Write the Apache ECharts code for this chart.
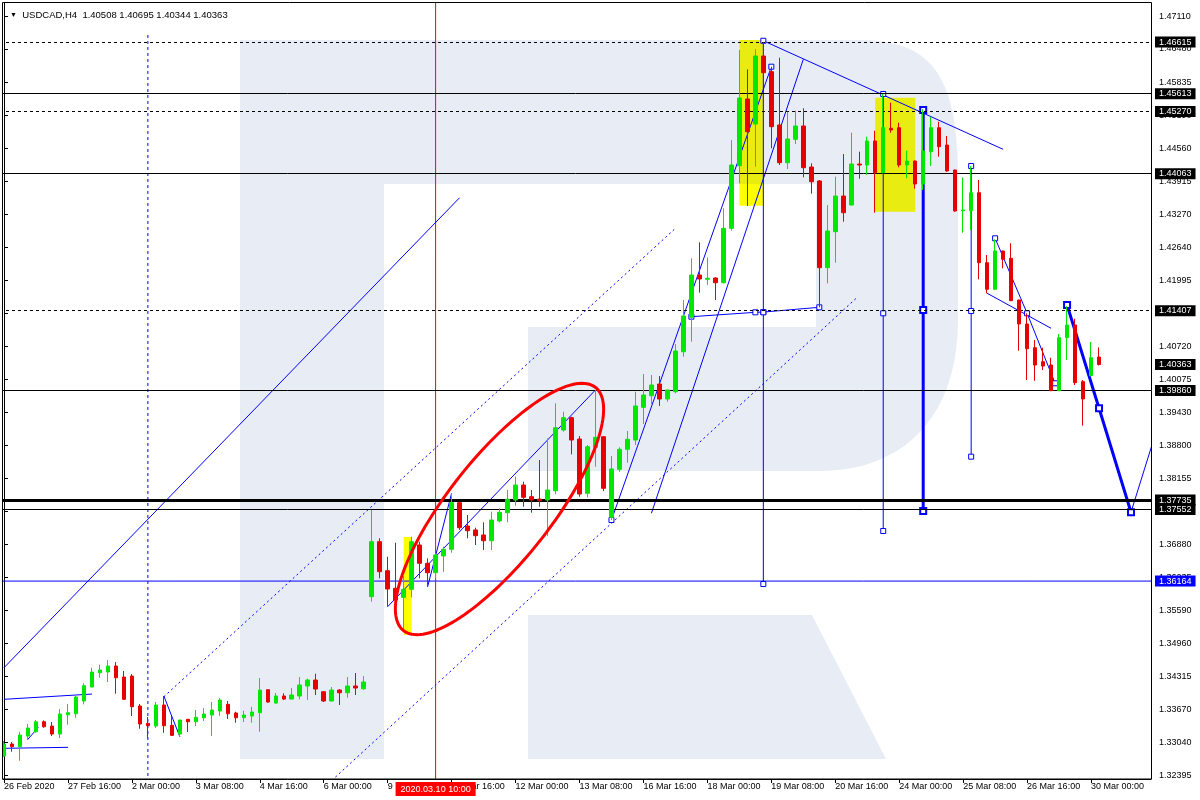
<!DOCTYPE html>
<html><head><meta charset="utf-8">
<script src="https://cdn.jsdelivr.net/npm/echarts@6/dist/echarts.min.js"></script>
<style>html,body{margin:0;padding:0;background:#fff}#c{width:1200px;height:800px}</style>
</head><body><div id="c"></div><script>
// ---------- data ----------
const X_TICK_LABELS = ['26 Feb 2020','27 Feb 16:00','2 Mar 00:00','3 Mar 08:00','4 Mar 16:00','6 Mar 00:00','9 Mar 08:00','10 Mar 16:00','12 Mar 00:00','13 Mar 08:00','16 Mar 16:00','18 Mar 00:00','19 Mar 08:00','20 Mar 16:00','24 Mar 00:00','25 Mar 08:00','26 Mar 16:00','30 Mar 00:00'];
const Y_TICKS = [1.47110,1.46480,1.45835,1.45190,1.44560,1.43915,1.43270,1.42640,1.41995,1.41350,1.40720,1.40075,1.39430,1.38800,1.38155,1.37510,1.36880,1.36235,1.35590,1.34960,1.34315,1.33670,1.33040,1.32395];
const OPEN = [1.32772,1.33005,1.32953,1.33160,1.33243,1.33437,1.33354,1.33199,1.33573,1.33592,1.33839,1.34110,1.34387,1.34401,1.34517,1.34304,1.34323,1.33742,1.33406,1.33354,1.33761,1.33367,1.33199,1.33484,1.33437,1.33515,1.33567,1.33645,1.33775,1.33606,1.33515,1.33548,1.33612,1.34058,1.33800,1.33936,1.33877,1.33936,1.34130,1.34246,1.34019,1.33839,1.34052,1.33999,1.34130,1.34077,
1.35862,1.36928,1.36366,1.36024,1.35850,1.36005,1.36864,1.36509,1.36327,1.36651,1.36781,1.37684,1.37232,1.37155,1.37058,1.36947,1.37329,1.37490,1.37736,1.38027,1.37800,1.37755,1.37736,1.37916,1.39093,1.39332,1.38918,1.37866,1.38757,1.38963,
1.37401,1.38331,1.38719,1.38899,1.39533,1.39758,1.39985,1.39694,1.39836,1.40611,1.41279,1.42098,1.42015,1.42040,1.41949,1.43003,1.44218,1.45511,1.45026,1.46344,1.46040,1.45007,1.44276,1.44729,1.44987,1.44192,1.43921,1.42240,1.42938,1.43630,
1.43455,1.44250,1.44231,1.44697,1.44082,1.44943,1.44954,1.44231,1.44309,1.43863,1.44489,1.44954,1.44619,1.44134,1.43345,1.43345,1.43694,1.42337,1.41821,1.42564,1.42422,1.41614,1.41149,1.40689,1.40417,1.40353,1.39855,1.40883,1.41129,1.40031,1.40146,1.40508];
const CLOSE = [1.33005,1.32953,1.33179,1.33315,1.33437,1.33340,1.33199,1.33587,1.33612,1.33916,1.34135,1.34401,1.34440,1.34517,1.34290,1.33872,1.33728,1.33393,1.33359,1.33761,1.33359,1.33173,1.33470,1.33437,1.33523,1.33587,1.33664,1.33858,1.33592,1.33515,1.33567,1.33625,1.34052,1.33819,1.33936,1.33877,1.33955,1.34149,1.34246,1.34071,1.33839,1.34052,1.33999,1.34130,1.34091,1.34207,
1.36928,1.36346,1.36011,1.35798,1.36005,1.36928,1.36509,1.36327,1.36670,1.36781,1.37684,1.37199,1.37141,1.37044,1.36947,1.37349,1.37498,1.37750,1.38027,1.37788,1.37736,1.37722,1.37930,1.39137,1.39332,1.38899,1.37852,1.38769,1.38951,1.37963,
1.38337,1.38719,1.38913,1.39559,1.39772,1.39966,1.39694,1.39869,1.40625,1.41304,1.42098,1.42021,1.42034,1.41949,1.43003,1.44231,1.45530,1.44877,1.46344,1.46020,1.44974,1.44276,1.44735,1.44987,1.44179,1.43907,1.42240,1.42951,1.43630,1.43306,
1.44250,1.44231,1.44697,1.44082,1.44954,1.44910,1.44231,1.44309,1.43863,1.44503,1.44954,1.44586,1.44115,1.43339,1.43359,1.43694,1.42337,1.41821,1.42564,1.42403,1.41600,1.41149,1.40669,1.40353,1.40334,1.39855,1.40883,1.41129,1.40011,1.39694,1.40495,1.40363];
const LOW = [1.32753,1.32856,1.32681,1.33082,1.33224,1.33321,1.33160,1.33121,1.33379,1.33515,1.33775,1.34105,1.34290,1.34207,1.33980,1.33858,1.33548,1.33302,1.33108,1.33315,1.33224,1.33160,1.33146,1.33238,1.33354,1.33451,1.33160,1.33554,1.33490,1.33418,1.33431,1.33418,1.33243,1.33806,1.33786,1.33858,1.33872,1.33872,1.33858,1.33955,1.33819,1.33835,1.33761,1.33903,1.33955,1.34058,
1.35765,1.36218,1.35668,1.35765,1.35183,1.35850,1.36218,1.36055,1.36218,1.36346,1.36715,1.37155,1.36994,1.36864,1.36767,1.36767,1.37304,1.37304,1.37625,1.37606,1.37490,1.37606,1.37038,1.37847,1.39060,1.38622,1.37800,1.37788,1.38381,1.37910,
1.37348,1.38284,1.38459,1.38802,1.39210,1.39597,1.39559,1.39642,1.39805,1.40514,1.40805,1.41756,1.41905,1.41614,1.41937,1.42957,1.43876,1.43436,1.44198,1.45960,1.44555,1.44231,1.44153,1.44638,1.43992,1.43675,1.41472,1.41937,1.42337,1.43132,
1.43450,1.43965,1.44037,1.43306,1.44070,1.44857,1.44186,1.43973,1.43772,1.43746,1.44212,1.44392,1.44101,1.43326,1.42918,1.42971,1.42015,1.41743,1.41808,1.42228,1.41595,1.40630,1.40062,1.40048,1.40256,1.39850,1.39850,1.40450,1.39966,1.39177,1.40140,1.40344];
const HIGH = [1.33063,1.33044,1.33238,1.33393,1.33470,1.33464,1.33431,1.33683,1.33780,1.33955,1.34182,1.34484,1.34542,1.34634,1.34595,1.34420,1.34362,1.33780,1.33528,1.33819,1.33936,1.33548,1.33475,1.33490,1.33664,1.33703,1.33819,1.33897,1.33839,1.33631,1.33650,1.33728,1.34285,1.34071,1.33994,1.33988,1.34091,1.34304,1.34271,1.34368,1.34032,1.34110,1.34071,1.34304,1.34382,1.34323,
1.37543,1.36994,1.36637,1.36909,1.36263,1.37025,1.36928,1.36606,1.36703,1.36831,1.37866,1.37703,1.37446,1.37199,1.37304,1.37510,1.37576,1.37930,1.38188,1.38091,1.37930,1.38512,1.38932,1.39611,1.39448,1.39351,1.38976,1.38802,1.39869,1.38976,
1.38589,1.38757,1.39074,1.39836,1.40179,1.40160,1.40140,1.39875,1.40760,1.41614,1.42422,1.42732,1.42441,1.42054,1.43391,1.44716,1.46461,1.46086,1.46474,1.46615,1.46137,1.46311,1.45264,1.45284,1.45330,1.44264,1.43940,1.43455,1.44004,1.44444,
1.44857,1.44489,1.44780,1.44896,1.45608,1.45439,1.45051,1.44508,1.44315,1.45311,1.45167,1.45070,1.44793,1.44140,1.43992,1.44212,1.43940,1.42486,1.42790,1.42570,1.42713,1.41620,1.41355,1.40838,1.40689,1.40495,1.40954,1.41498,1.41250,1.40062,1.40799,1.40695];

// horizontal levels
const SOLID_LEVELS = [1.45613, 1.44063, 1.39860, 1.37552];
const DASHED_LEVELS = [1.46615, 1.45270, 1.41407];
const THICK_LEVEL = 1.37735;
const BLUE_LEVEL = 1.36164;
const BID_PRICE = 1.40363;
const CROSSHAIR_BAR = 54;
const CROSSHAIR_TEXT = '2020.03.10 10:00';

// drawn objects: [bar index, price]
const TREND_LONG = [[0, 1.34485], [57, 1.43597]];
const SEG_LOW_1 = [[0, 1.33872], [11, 1.33974]];
const SEG_LOW_2 = [[0, 1.32922], [8, 1.32941]];
const SEG_TINY_1 = [[2.9, 1.33082], [4.3, 1.33328]];
const SEG_TINY_2 = [[20, 1.33936], [22, 1.33146]];
const CHANNEL_UP = [[20, 1.33922], [84, 1.43003]];
const CHANNEL_LOW = [[41, 1.32298], [106.7, 1.41659]];
const MID_LINE = [[48, 1.35668], [74, 1.39869]];
const SHORT_UP = [[53, 1.36055], [56, 1.37866]];
const RISE_1 = [[76, 1.37348], [96, 1.46137]];
const RISE_2 = [[81, 1.37480], [100, 1.46280]];
const FLAT_LINE = [[86, 1.41290], [94, 1.41375], [95, 1.41380], [102, 1.41472]];
const DOWN_TREND = [[95, 1.46640], [125, 1.44535]];
const VERT_18 = [[18, 1.46752], [18, 1.3200]];
const VERT_95 = [[95, 1.46640], [95, 1.41375], [95, 1.36107]];
const VERT_110 = [[110, 1.45608], [110, 1.41356], [110, 1.37135]];
const VERT_115 = [[115, 1.45297], [115, 1.41420], [115, 1.37523]];
const VERT_121 = [[121, 1.44212], [121, 1.41400], [121, 1.38576]];
const ZIG_A = [[123, 1.41744], [131, 1.41065]];
const ZIG_B = [[124, 1.42810], [128, 1.41356], [131.5, 1.39999]];
const THICK_DOWN = [[133, 1.41517], [137, 1.39514], [141, 1.37500]];
const FINAL_UP = [[141, 1.37500], [143.7, 1.38841]];
// yellow boxes: [bar1, price1, bar2, price2]
const YELLOW_BOXES = [[92, 1.46654, 95, 1.43442], [109, 1.45536, 114, 1.43326], [50, 1.37018, 51, 1.35119]];
// ellipse: major axis tips [bar, price, bar, price], minor/major ratio
const ELLIPSE_TIPS = [74.0, 1.39919, 49.98, 1.35204];
const ELLIPSE_RATIO = 0.332;

// ---------- chart ----------
const SLOTS = 144;
const Y_MIN = 1.32327, Y_MAX = 1.47372;
const CATEGORIES = Array.from({length: SLOTS}, (_, i) => String(i));
const FONT = "'Liberation Sans', Arial, sans-serif";
const BLUE = '#0000ff';
const RED = '#ff0000';
const UP = '#00e800', DOWN = '#e80000';

function line(data, extra) {
  return Object.assign({
    type: 'line', xAxisIndex: 1, yAxisIndex: 0, data: data, symbol: 'none',
    silent: true, animation: false, clip: true, z: 3,
    lineStyle: {color: BLUE, width: 1}
  }, extra || {});
}
const SQ = {symbol: 'rect', symbolSize: 5, showSymbol: true, itemStyle: {color: '#ffffff', borderColor: BLUE, borderWidth: 1}};

function levelLabel(bg) {
  return {show: true, position: 'end', distance: 4, formatter: p => Number(p.value).toFixed(5),
    color: '#fff', backgroundColor: bg, padding: [1, 4, 0, 4], fontSize: 9, lineHeight: 10, fontFamily: FONT};
}
const blackLevels = [];
SOLID_LEVELS.forEach(v => blackLevels.push({yAxis: v, lineStyle: {color: '#000', width: 1, type: 'solid'}}));
DASHED_LEVELS.forEach(v => blackLevels.push({yAxis: v, lineStyle: {color: '#000', width: 1, type: [3, 3]}}));
blackLevels.push({yAxis: THICK_LEVEL, lineStyle: {color: '#000', width: 3, type: 'solid'}});
blackLevels.push({yAxis: BID_PRICE, lineStyle: {color: 'rgba(0,0,0,0)', width: 1}});

function bezier(p0, p1, p2, p3, n) {
  const out = [];
  for (let k = 1; k <= n; k++) {
    const t = k / n, u = 1 - t;
    out.push([u*u*u*p0[0] + 3*u*u*t*p1[0] + 3*u*t*t*p2[0] + t*t*t*p3[0],
              u*u*u*p0[1] + 3*u*u*t*p1[1] + 3*u*t*t*p2[1] + t*t*t*p3[1]]);
  }
  return out;
}
// RoboForex-like watermark (decorative logo)
const bowl = [[240, 40], [860, 40]]
  .concat(bezier([860, 40], [935, 40], [958, 80], [958, 180], 20))
  .concat([[958, 320]])
  .concat(bezier([958, 320], [958, 420], [900, 471], [820, 471], 20))
  .concat([[528, 471], [528, 327], [816, 327], [816, 184], [384, 184], [384, 759], [240, 759]]);
const leg = [[528, 615], [812, 615], [886, 759], [528, 759]];
const WM = 'rgba(30,70,160,0.1)';

const chart = echarts.init(document.getElementById('c'), null, {renderer: 'canvas'});
chart.setOption({
  animation: false,
  backgroundColor: '#ffffff',
  title: {
    text: '{t|▼}  USDCAD,H4  1.40508 1.40695 1.40344 1.40363', left: 5, top: 5,
    textStyle: {fontSize: 9.5, fontWeight: 'normal', color: '#000', fontFamily: FONT, rich: {t: {fontSize: 7, color: '#000'}}}
  },
  grid: {left: -1, right: 49, top: 3, bottom: 21, containLabel: false},
  xAxis: [{
    type: 'category', data: CATEGORIES, boundaryGap: true,
    axisLine: {show: true, lineStyle: {color: '#000', width: 1}},
    axisTick: {show: true, interval: 7, alignWithLabel: true, length: 4, lineStyle: {color: '#000'}},
    axisLabel: {interval: 7, align: 'left', margin: 3, fontSize: 9, color: '#000', fontFamily: FONT,
      formatter: (v, i) => X_TICK_LABELS[i / 8] || ''},
    splitLine: {show: false}
  }, {
    type: 'value', min: -0.5, max: SLOTS - 0.5, show: false
  }],
  yAxis: [{
    type: 'value', position: 'right', min: Y_MIN, max: Y_MAX, scale: true,
    axisLine: {show: true, lineStyle: {color: '#000', width: 1}},
    axisTick: {show: true, length: 4, customValues: Y_TICKS, lineStyle: {color: '#000'}},
    axisLabel: {customValues: Y_TICKS, formatter: v => v.toFixed(5), fontSize: 9, color: '#000', margin: 8, fontFamily: FONT},
    splitLine: {show: false}
  }],
  graphic: {elements: [
    {type: 'polygon', shape: {points: bowl}, style: {fill: WM}, z: 1, silent: true},
    {type: 'polygon', shape: {points: leg}, style: {fill: WM}, z: 1, silent: true},
    {type: 'rect', shape: {x: 0, y: 0, width: 2.5, height: 780}, style: {fill: '#fff'}, z: 90, silent: true},
    {type: 'rect', shape: {x: 2.5, y: 2.5, width: 1149, height: 776.5}, style: {fill: 'none', stroke: '#000', lineWidth: 1}, z: 100, silent: true}
  ]},
  series: [
    {
      type: 'custom', xAxisIndex: 1, yAxisIndex: 0, z: 0, silent: true, data: YELLOW_BOXES,
      encode: {x: [0, 2], y: [1, 3]},
      renderItem: (params, api) => {
        const p1 = api.coord([api.value(0), api.value(1)]);
        const p2 = api.coord([api.value(2), api.value(3)]);
        return {type: 'rect', shape: {x: Math.min(p1[0], p2[0]), y: Math.min(p1[1], p2[1]),
          width: Math.abs(p2[0] - p1[0]), height: Math.abs(p2[1] - p1[1])}, style: {fill: '#ffff00'}};
      }
    },
    {
      type: 'candlestick', xAxisIndex: 0, yAxisIndex: 0, z: 5, silent: true,
      data: OPEN.map((o, i) => [o, CLOSE[i], LOW[i], HIGH[i]]),
      barWidth: 4,
      itemStyle: {color: UP, color0: DOWN, borderColor: UP, borderColor0: DOWN, borderWidth: 1}
    },
    line(TREND_LONG, {z: 4, markLine: {symbol: 'none', silent: true, animation: false, precision: 5,
      lineStyle: {color: '#000', width: 1}, label: levelLabel('#000'), data: blackLevels}}),
    // blue horizontal level drawn as a line across the full x range, label via markLine
    line([[-0.5, BLUE_LEVEL], [SLOTS - 0.5, BLUE_LEVEL]], {lineStyle: {color: BLUE, width: 1},
      markLine: {symbol: 'none', silent: true, animation: false, precision: 5,
        lineStyle: {color: 'rgba(0,0,0,0)', width: 1}, label: levelLabel(BLUE), data: [{yAxis: BLUE_LEVEL}]}}),
    // red crosshair, drawn as a vertical line, label via markLine
    line([[CROSSHAIR_BAR, Y_MIN], [CROSSHAIR_BAR, Y_MAX]], {lineStyle: {color: RED, width: 1},
      markLine: {symbol: 'none', silent: true, animation: false, precision: 5,
        lineStyle: {color: 'rgba(0,0,0,0)', width: 1},
        label: {show: true, position: 'start', distance: 3, formatter: CROSSHAIR_TEXT, color: '#fff', backgroundColor: RED,
          padding: [3, 5, 2, 5], fontSize: 9, fontFamily: FONT},
        data: [{xAxis: CROSSHAIR_BAR}]}}),
    line(SEG_LOW_1), line(SEG_LOW_2), line(SEG_TINY_1), line(SEG_TINY_2),
    line(CHANNEL_UP, {lineStyle: {color: BLUE, width: 1, type: [2, 3]}}),
    line(CHANNEL_LOW, {lineStyle: {color: BLUE, width: 1, type: [2, 3]}}),
    line(MID_LINE), line(SHORT_UP),
    line(RISE_1, Object.assign({}, SQ)), line(RISE_2),
    line(FLAT_LINE, Object.assign({}, SQ)),
    line(DOWN_TREND),
    line(VERT_18, {lineStyle: {color: BLUE, width: 1, type: [3, 3]}}),
    line(VERT_95, Object.assign({}, SQ)),
    line(VERT_110, Object.assign({}, SQ)),
    line(VERT_115, Object.assign({}, SQ, {lineStyle: {color: BLUE, width: 3}, symbolSize: 6, itemStyle: {color: '#fff', borderColor: BLUE, borderWidth: 2}})),
    line(VERT_121, Object.assign({}, SQ)),
    line(ZIG_A), line(ZIG_B, Object.assign({}, SQ)),
    line(THICK_DOWN, Object.assign({}, SQ, {lineStyle: {color: BLUE, width: 3}, symbolSize: 6, itemStyle: {color: '#fff', borderColor: BLUE, borderWidth: 2}})),
    line(FINAL_UP),
    {
      type: 'custom', xAxisIndex: 1, yAxisIndex: 0, z: 6, silent: true, data: [ELLIPSE_TIPS],
      encode: {x: [0, 2], y: [1, 3]},
      renderItem: (params, api) => {
        const a1 = api.coord([api.value(0), api.value(1)]);
        const a2 = api.coord([api.value(2), api.value(3)]);
        const cx = (a1[0] + a2[0]) / 2, cy = (a1[1] + a2[1]) / 2;
        const a = Math.hypot(a1[0] - cx, a1[1] - cy), ang = Math.atan2(a1[1] - cy, a1[0] - cx);
        const b = a * ELLIPSE_RATIO, pts = [];
        for (let k = 0; k < 144; k++) {
          const t = k / 144 * 2 * Math.PI, ex = a * Math.cos(t), ey = b * Math.sin(t);
          pts.push([cx + ex * Math.cos(ang) - ey * Math.sin(ang), cy + ex * Math.sin(ang) + ey * Math.cos(ang)]);
        }
        return {type: 'polygon', shape: {points: pts}, style: {fill: 'none', stroke: RED, lineWidth: 3}};
      }
    }
  ]
});
</script></body></html>
